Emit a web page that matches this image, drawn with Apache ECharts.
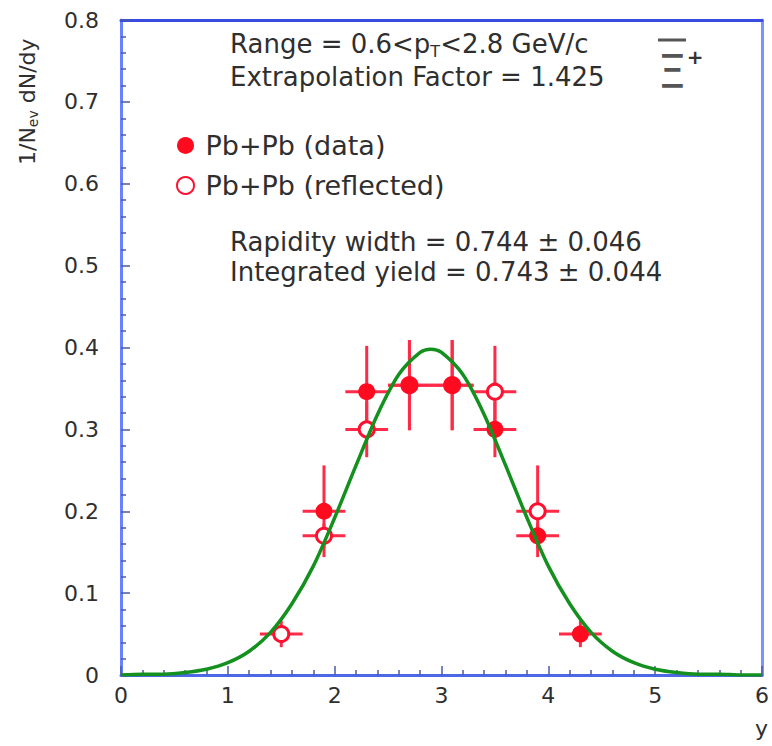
<!DOCTYPE html>
<html>
<head>
<meta charset="utf-8">
<script src="https://cdn.jsdelivr.net/npm/echarts@6/dist/echarts.min.js"></script>
<style>
  html, body { margin: 0; padding: 0; background: #fff; }
  #chart { width: 772px; height: 746px; }
</style>
</head>
<body>
<div id="chart"></div>
<script>
// Xi rapidity distribution in Pb+Pb: measured points, reflected points, Gaussian fit

// measured points (rapidity, 1/N dN/dy, x half-width, y error)
const dataX    = [1.9, 2.3, 2.7, 3.1, 3.5, 3.9, 4.3];
const dataY    = [0.200, 0.346, 0.354, 0.354, 0.300, 0.170, 0.050];
const dataXErr = [0.2, 0.2, 0.2, 0.2, 0.2, 0.2, 0.2];
const dataYErr = [0.056, 0.056, 0.055, 0.055, 0.034, 0.015, 0.016];

// points reflected about mid-rapidity
const reflX    = [1.5, 1.9, 2.3, 2.7, 3.1, 3.5, 3.9];
const reflY    = [0.050, 0.170, 0.300, 0.354, 0.354, 0.346, 0.200];
const reflXErr = [0.2, 0.2, 0.2, 0.2, 0.2, 0.2, 0.2];
const reflYErr = [0.016, 0.015, 0.034, 0.055, 0.055, 0.056, 0.056];

// fitted curve, sampled along y
const fitX = [0, 0.2, 0.4, 0.6, 0.8, 1.0, 1.2, 1.4, 1.6, 1.8, 2.0, 2.2, 2.4, 2.6, 2.8, 2.9,
              3.0, 3.2, 3.4, 3.6, 3.8, 4.0, 4.2, 4.4, 4.6, 4.8, 5.0, 5.2, 5.4, 5.6, 5.8, 6.0];
const fitY = [0.000, 0.001, 0.001, 0.003, 0.007, 0.015, 0.029, 0.052, 0.087, 0.133, 0.192,
              0.256, 0.318, 0.367, 0.394, 0.398, 0.394, 0.367, 0.318, 0.256, 0.192, 0.133,
              0.087, 0.052, 0.029, 0.015, 0.007, 0.003, 0.001, 0.001, 0.000, 0.000];

// axis ticks
const xTicks = { min: 0, max: 6, step: 1 };
const yTicks = { min: 0, max: 0.8, step: 0.1 };

const FONT = 'DejaVu Sans';
const TEXT = '#2f2f2f';
const RED = '#ff0a1e';
const BAR_RED = '#ff2a48';
const GREEN = '#14901f';

function errRows(xs, ys, exs, eys) {
  return xs.map((x, i) => [x, ys[i], exs[i], eys[i]]);
}

function renderErr(params, api) {
  const x = api.value(0), y = api.value(1), ex = api.value(2), ey = api.value(3);
  const l = api.coord([x - ex, y]);
  const r = api.coord([x + ex, y]);
  const t = api.coord([x, y + ey]);
  const b = api.coord([x, y - ey]);
  const st = { stroke: BAR_RED, lineWidth: 3 };
  return {
    type: 'group',
    children: [
      { type: 'line', shape: { x1: l[0], y1: l[1], x2: r[0], y2: r[1] }, style: st },
      { type: 'line', shape: { x1: t[0], y1: t[1], x2: b[0], y2: b[1] }, style: st }
    ]
  };
}

const chart = echarts.init(document.getElementById('chart'), null, { renderer: 'svg' });

const frame = (color) => ({ show: true, onZero: false, lineStyle: { color: color, width: 3 } });

chart.setOption({
  animation: false,
  backgroundColor: '#fff',
  grid: { left: 121, right: 5, top: 20, bottom: 71, containLabel: false },
  xAxis: [
    {
      type: 'value', min: xTicks.min, max: xTicks.max, interval: xTicks.step,
      position: 'bottom',
      axisLine: frame('#4d68e6'),
      axisTick: { show: true, inside: true, length: 9, lineStyle: { color: '#4a5aa8', width: 1.5 } },
      minorTick: { show: true, splitNumber: 5, length: 5, lineStyle: { color: '#4a5aa8', width: 1.5 } },
      splitLine: { show: false },
      axisLabel: { fontFamily: FONT, fontSize: 22, color: TEXT, margin: 9 },
      name: 'y', nameLocation: 'end', nameGap: 6,
      nameTextStyle: { fontFamily: FONT, fontSize: 22, color: TEXT, align: 'right', verticalAlign: 'top', padding: [42, 0, 0, 0] }
    },
    {
      type: 'value', min: xTicks.min, max: xTicks.max, position: 'top',
      axisLine: frame('#3a4be0'), axisTick: { show: false }, axisLabel: { show: false }, splitLine: { show: false }
    }
  ],
  yAxis: [
    {
      type: 'value', min: yTicks.min, max: yTicks.max, interval: yTicks.step,
      position: 'left',
      axisLine: frame('#6b82ff'),
      axisTick: { show: true, inside: true, length: 9, lineStyle: { color: '#4a5aa8', width: 1.5 } },
      minorTick: { show: true, splitNumber: 5, length: 5, lineStyle: { color: '#4a5aa8', width: 1.5 } },
      splitLine: { show: false },
      axisLabel: { fontFamily: FONT, fontSize: 22, color: TEXT, margin: 22 }
    },
    {
      type: 'value', min: yTicks.min, max: yTicks.max, position: 'right',
      axisLine: frame('#7d93ff'), axisTick: { show: false }, axisLabel: { show: false }, splitLine: { show: false }
    }
  ],
  legend: {
    data: ['Pb+Pb (data)', 'Pb+Pb (reflected)'],
    orient: 'vertical', left: 171, top: 127, itemGap: 13,
    itemWidth: 30, itemHeight: 17,
    textStyle: { fontFamily: FONT, fontSize: 27, color: TEXT }
  },
  series: [
    {
      type: 'custom', name: 'reflected errors', renderItem: renderErr,
      data: errRows(reflX, reflY, reflXErr, reflYErr), z: 2, silent: true
    },
    {
      type: 'custom', name: 'data errors', renderItem: renderErr,
      data: errRows(dataX, dataY, dataXErr, dataYErr), z: 2, silent: true
    },
    {
      type: 'scatter', name: 'Pb+Pb (reflected)', symbol: 'circle', symbolSize: 15,
      itemStyle: { color: '#ffffff', borderColor: '#ff1030', borderWidth: 3, opacity: 1 },
      data: reflX.map((x, i) => [x, reflY[i]]), z: 3
    },
    {
      type: 'scatter', name: 'Pb+Pb (data)', symbol: 'circle', symbolSize: 17,
      itemStyle: { color: RED, opacity: 1 },
      data: dataX.map((x, i) => [x, dataY[i]]), z: 4
    },
    {
      type: 'line', name: 'fit', smooth: 0.3, showSymbol: false, symbol: 'none',
      lineStyle: { color: GREEN, width: 3.5 },
      data: fitX.map((x, i) => [x, fitY[i]]), z: 5, silent: true
    }
  ],
  graphic: [
    {
      type: 'text', x: 27, y: 165, rotation: Math.PI / 2,
      style: {
        text: '{m|1/N}{s|ev}{m| dN/dy}',
        align: 'left', verticalAlign: 'middle',
        rich: {
          m: { fontFamily: FONT, fontSize: 22, lineHeight: 26, fill: TEXT, color: TEXT },
          s: { fontFamily: FONT, fontSize: 14, verticalAlign: 'bottom', fill: TEXT, color: TEXT }
        }
      }
    },
    {
      type: 'text', x: 230, y: 44,
      style: {
        text: '{m|Range = 0.6<p}{s|T}{m|<2.8 GeV/c}',
        align: 'left', verticalAlign: 'middle',
        rich: {
          m: { fontFamily: FONT, fontSize: 26, lineHeight: 30, fill: TEXT, color: TEXT },
          s: { fontFamily: FONT, fontSize: 16, verticalAlign: 'bottom', fill: TEXT, color: TEXT }
        }
      }
    },
    {
      type: 'text', x: 230, y: 77,
      style: { text: 'Extrapolation Factor = 1.425', fontFamily: FONT, fontSize: 26, fill: TEXT, align: 'left', verticalAlign: 'middle' }
    },
    {
      type: 'text', x: 230, y: 242,
      style: { text: 'Rapidity width = 0.744 \u00b1 0.046', fontFamily: FONT, fontSize: 26, fill: TEXT, align: 'left', verticalAlign: 'middle' }
    },
    {
      type: 'text', x: 230, y: 272,
      style: { text: 'Integrated yield = 0.743 \u00b1 0.044', fontFamily: FONT, fontSize: 26, fill: TEXT, align: 'left', verticalAlign: 'middle' }
    },
    // anti-Xi symbol: overline bar, Xi glyph and superscript plus
    {
      type: 'rect', shape: { x: 658, y: 38.5, width: 28, height: 3 }, style: { fill: '#555' }
    },
    {
      type: 'text', x: 672, y: 72,
      style: { text: '\u039e', fontFamily: FONT, fontSize: 46, fill: '#555', align: 'center', verticalAlign: 'middle' }
    },
    {
      type: 'text', x: 695, y: 57,
      style: { text: '+', fontFamily: FONT, fontSize: 20, fontWeight: 'bold', fill: '#333', align: 'center', verticalAlign: 'middle' }
    }
  ]
});
</script>
</body>
</html>
